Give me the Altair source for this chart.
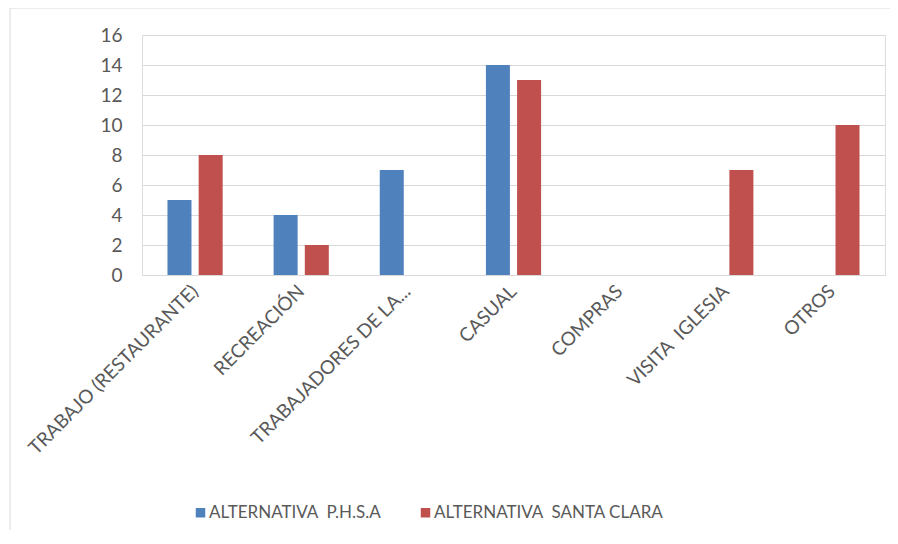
import altair as alt
import pandas as pd

categories = ["TRABAJO (RESTAURANTE)", "RECREACIÓN", "TRABAJADORES DE LA...", "CASUAL",
              "COMPRAS", "VISITA\u00a0\u00a0IGLESIA", "OTROS"]
series = ["ALTERNATIVA\u00a0\u00a0P.H.S.A", "ALTERNATIVA\u00a0\u00a0SANTA CLARA"]
phsa = [5, 4, 7, 14, 0, 0, 0]
santa_clara = [8, 2, 0, 13, 0, 7, 10]
colors = ["#4F81BD", "#C0504D"]

rows = []
for c, a, b in zip(categories, phsa, santa_clara):
    rows.append({"cat": c, "serie": series[0], "val": a})
    rows.append({"cat": c, "serie": series[1], "val": b})
df = pd.DataFrame(rows)

FONT = "Lato"
GREY = "#595959"

bars = alt.Chart(df).mark_bar().encode(
    x=alt.X("cat:N", sort=categories, title=None,
            scale=alt.Scale(paddingInner=0.48, paddingOuter=0.24),
            axis=alt.Axis(labelAngle=-45, labelAlign="right", labelBaseline="middle",
                          labelPadding=13, ticks=False, domain=True, domainColor="#d9d9d9",
                          labelFontSize=19, labelColor=GREY, labelFont=FONT, labelLimit=400)),
    xOffset=alt.XOffset("serie:N", sort=series, scale=alt.Scale(paddingInner=0.23)),
    y=alt.Y("val:Q", title=None, scale=alt.Scale(domain=[0, 16]),
            axis=alt.Axis(values=list(range(0, 17, 2)), grid=True, gridColor="#d9d9d9",
                          domain=False, ticks=False, labelPadding=20, labelFontSize=19,
                          labelColor=GREY, labelFont=FONT)),
    color=alt.Color("serie:N", sort=series, title=None,
                    scale=alt.Scale(domain=series, range=colors),
                    legend=alt.Legend(orient="none", legendX=50, legendY=469,
                                      direction="horizontal", symbolType="square",
                                      symbolSize=90, symbolStrokeWidth=0, labelFontSize=17,
                                      labelColor=GREY, labelFont=FONT, columnPadding=36,
                                      labelOffset=0, symbolOpacity=1, labelLimit=400)),
)

edge = pd.DataFrame({"a": [0]})
top_line = alt.Chart(edge).mark_rule(color="#d9d9d9", strokeWidth=1).encode(
    x=alt.value(-132), x2=alt.value(800), y=alt.value(-27))
left_line = alt.Chart(edge).mark_rule(color="#d9d9d9", strokeWidth=1).encode(
    x=alt.value(-132), y=alt.value(-27), y2=alt.value(600))

chart = alt.layer(top_line, left_line, bars).properties(
    width=743, height=240,
    autosize=alt.AutoSizeParams(type="none"),
    padding={"left": 134, "top": 27, "right": 5, "bottom": 255},
).configure_view(stroke=None).configure(background="white")

chart.save("out.html", embed_options={"renderer": "svg", "actions": False})
